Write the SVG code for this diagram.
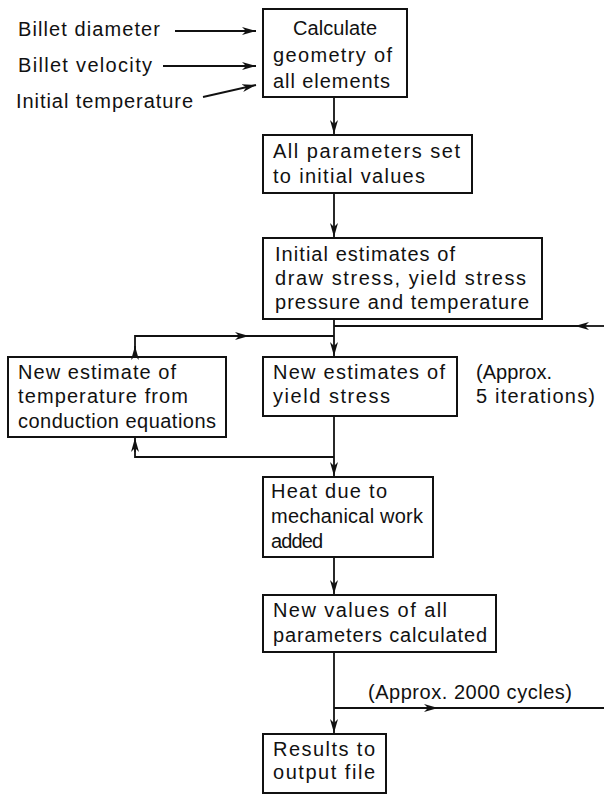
<svg xmlns="http://www.w3.org/2000/svg" width="604" height="795" viewBox="0 0 604 795">
<style>
.box{fill:#fff;stroke:#111;stroke-width:2}
.ln{fill:none;stroke:#111;stroke-width:1.8}
.ar{fill:none;stroke:#111;stroke-width:1.8;marker-end:url(#ah)}
text{font-family:"Liberation Sans",Arial,sans-serif;font-size:20px;fill:#111}
</style>
<defs>
<marker id="ah" markerUnits="userSpaceOnUse" markerWidth="15" markerHeight="10" refX="14" refY="5" orient="auto">
<path d="M0,1 L14,5 L0,9 L4,5 z" fill="#111"/>
</marker>
</defs>
<rect width="604" height="795" fill="#fff"/>
<g id="inputs">
<text x="18" y="36" textLength="142" lengthAdjust="spacing">Billet diameter</text>
<text x="18" y="72" textLength="134" lengthAdjust="spacing">Billet velocity</text>
<text x="16" y="108" textLength="177" lengthAdjust="spacing">Initial temperature</text>
</g>
<g id="n1">
<rect class="box" x="263" y="9" width="144" height="88"/>
<text x="293" y="35" textLength="84" lengthAdjust="spacing">Calculate</text>
<text x="273" y="62" textLength="119" lengthAdjust="spacing">geometry of</text>
<text x="273" y="88" textLength="117" lengthAdjust="spacing">all elements</text>
</g>
<g id="n2">
<rect class="box" x="263" y="135" width="209" height="58"/>
<text x="273" y="158" textLength="187" lengthAdjust="spacing">All parameters set</text>
<text x="273" y="183" textLength="152" lengthAdjust="spacing">to initial values</text>
</g>
<g id="n3">
<rect class="box" x="263" y="238" width="279" height="81"/>
<text x="275" y="261" textLength="180" lengthAdjust="spacing">Initial estimates of</text>
<text x="275" y="285" textLength="251" lengthAdjust="spacing">draw stress, yield stress</text>
<text x="275" y="309" textLength="254" lengthAdjust="spacing">pressure and temperature</text>
</g>
<g id="n4">
<rect class="box" x="8" y="357" width="218" height="80"/>
<text x="18" y="379" textLength="158" lengthAdjust="spacing">New estimate of</text>
<text x="18" y="403" textLength="170" lengthAdjust="spacing">temperature from</text>
<text x="18" y="428" textLength="198" lengthAdjust="spacing">conduction equations</text>
</g>
<g id="n5">
<rect class="box" x="263" y="357" width="194" height="59"/>
<text x="273" y="379" textLength="172" lengthAdjust="spacing">New estimates of</text>
<text x="273" y="403" textLength="117" lengthAdjust="spacing">yield stress</text>
</g>
<g id="note1">
<text x="476" y="379" textLength="76" lengthAdjust="spacing">(Approx.</text>
<text x="476" y="403" textLength="119" lengthAdjust="spacing">5 iterations)</text>
</g>
<g id="n6">
<rect class="box" x="263" y="477" width="170" height="80"/>
<text x="271" y="498" textLength="116" lengthAdjust="spacing">Heat due to</text>
<text x="271" y="523" textLength="152" lengthAdjust="spacing">mechanical work</text>
<text x="271" y="548" textLength="52" lengthAdjust="spacing">added</text>
</g>
<g id="n7">
<rect class="box" x="263" y="595" width="233" height="57"/>
<text x="273" y="617" textLength="174" lengthAdjust="spacing">New values of all</text>
<text x="273" y="642" textLength="214" lengthAdjust="spacing">parameters calculated</text>
</g>
<g id="note2">
<text x="368" y="699" textLength="204" lengthAdjust="spacing">(Approx. 2000 cycles)</text>
</g>
<g id="n8">
<rect class="box" x="263" y="734" width="123" height="59"/>
<text x="273" y="756" textLength="102" lengthAdjust="spacing">Results to</text>
<text x="273" y="779" textLength="102" lengthAdjust="spacing">output file</text>
</g>
<g id="connectors">
<path class="ar" d="M175,31 L256,31"/>
<path class="ar" d="M163,66 L256,66"/>
<path class="ar" d="M203,97 L256,85"/>
<path class="ar" d="M334,97 L334,134"/>
<path class="ar" d="M334,193 L334,237"/>
<path class="ar" d="M334,319 L334,356"/>
<path class="ar" d="M604,326 L575,326"/>
<path class="ln" d="M580,326 L334,326"/>
<path class="ar" d="M135,357 L135,346"/>
<path class="ln" d="M135,350 L135,336 L334,336"/>
<path class="ar" d="M135,336 L249,336"/>
<path class="ln" d="M334,457 L135,457 L135,445"/>
<path class="ar" d="M135,452 L135,438"/>
<path class="ar" d="M334,416 L334,476"/>
<path class="ar" d="M334,557 L334,594"/>
<path class="ar" d="M334,652 L334,733"/>
<path class="ar" d="M334,708 L438,708"/>
<path class="ln" d="M436,708 L604,708"/>
</g>
</svg>
